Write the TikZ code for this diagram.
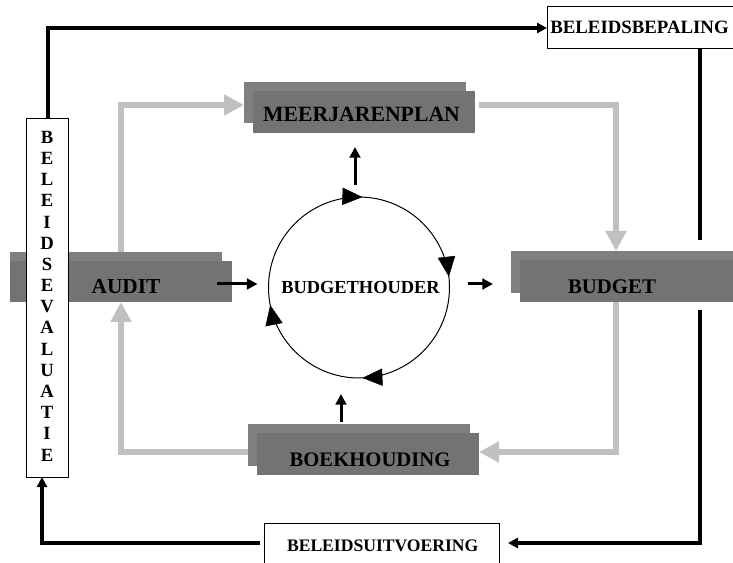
\documentclass[tikz,border=0pt]{standalone}
\usepackage{fontspec}
\setmainfont{Liberation Serif}
\usetikzlibrary{arrows.meta,calc,decorations.markings}
\definecolor{boxback}{RGB}{128,128,128}
\definecolor{boxfront}{RGB}{115,115,115}
\definecolor{flowgray}{RGB}{192,192,192}
\begin{document}
\begin{tikzpicture}[x=0.75pt,y=-0.75pt,
  boxshape/.style={rectangle,inner sep=0pt,outer sep=0pt},
  backbox/.style={boxshape,fill=boxback},
  frontbox/.style={boxshape},
  whitebox/.style={boxshape,draw=black,fill=white,line width=0.75pt},
  lbl/.style={inner sep=0pt,anchor=base},
  flow/.style={draw=flowgray,line width=4pt,-{Triangle[length=15pt,width=15pt]}},
  policy/.style={draw=black,line width=2.5pt,-{Triangle[length=7.5pt,width=7.5pt]}},
  policyline/.style={draw=black,line width=2.5pt},
  smallarrow/.style={draw=black,line width=2.25pt,-{Triangle[length=8pt,width=8pt]}}
]
\clip (0,0) rectangle (733,563);
\fill[white] (0,0) rectangle (733,563);

% back boxes
\node[backbox,minimum width=166.5pt,minimum height=30.75pt] (mjpB) at (355,102.5) {};
\node[backbox,minimum width=159pt,minimum height=30.75pt] (auditB) at (116,272.5) {};
\node[backbox,minimum width=175.5pt,minimum height=31.5pt] (budgetB) at (628,272) {};
\node[backbox,minimum width=166.5pt,minimum height=31.5pt] (boekB) at (359,445) {};

% front boxes (placed now, filled after the flows)
\node[frontbox,minimum width=166.5pt,minimum height=31.5pt] (mjp) at (364,112) {};
\node[frontbox,minimum width=166.5pt,minimum height=30.75pt] (audit) at (121,281.5) {};
\node[frontbox,minimum width=168.75pt,minimum height=31.5pt] (budget) at (632.5,281) {};
\node[frontbox,minimum width=166.5pt,minimum height=31.5pt] (boek) at (368,454) {};

% coordinates
\coordinate (gl) at (121,0);
\coordinate (gr) at (616,0);
\coordinate (gtop) at (0,105);
\coordinate (gbot) at (0,452);

% grey flows
\draw[flow] (auditB.north -| gl) |- (mjpB.west |- gtop);
\draw[flow] ($(mjp.east |- gtop)+(4,0)$) -| (budgetB.north -| gr);
\draw[flow] (budget.south -| gr) |- (boek.east |- gbot);
\draw[flow] (boekB.west |- gbot) -| (audit.south -| gl);

% fill front boxes
\foreach \b in {mjp,audit,budget,boek}
  \fill[boxfront] (\b.south west) rectangle (\b.north east);

% white boxes
\node[whitebox,minimum width=31.5pt,minimum height=268.5pt] (eval) at (47,298) {};
\node[whitebox,minimum width=159.75pt,minimum height=31.5pt] (bepaling) at (653.5,28) {};
\node[whitebox,minimum width=176.25pt,minimum height=57.75pt] (uitvoering) at (381.5,561.5) {};

% circle
\node[circle,draw=black,line width=0.75pt,minimum size=135.75pt,inner sep=0pt,outer sep=0pt] (circ) at (359,287.5) {};
\path[decoration={markings,
    mark=at position 0.244 with {\arrow{Triangle[length=15pt,width=13pt]}},
    mark=at position 0.469 with {\arrow{Triangle[length=15pt,width=13pt]}},
    mark=at position 0.756 with {\arrow{Triangle[length=15pt,width=13pt]}},
    mark=at position 0.981 with {\arrow{Triangle[length=15pt,width=13pt]}}},
    postaction={decorate}]
  (circ.east) arc[start angle=0,end angle=-360,radius=67.875pt];

% labels
\node[lbl,font=\bfseries\fontsize{16.3}{19}\selectfont] (mjptxt) at (361.5,122) {MEERJARENPLAN};
\node[lbl,font=\bfseries\fontsize{16}{19}\selectfont] (audittxt) at (126,294) {AUDIT};
\node[lbl,font=\bfseries\fontsize{15.6}{19}\selectfont] (budgettxt) at (612,294) {BUDGET};
\node[lbl,font=\bfseries\fontsize{15.5}{19}\selectfont] (boektxt) at (370,466) {BOEKHOUDING};
\node[lbl,font=\bfseries\fontsize{13.8}{17}\selectfont] (bhtxt) at (360.5,294) {BUDGETHOUDER};
\node[lbl,font=\bfseries\fontsize{14.1}{17}\selectfont] (beptxt) at (639.5,33.3) {BELEIDSBEPALING};
\node[lbl,font=\bfseries\fontsize{13.2}{16}\selectfont] (uittxt) at (382.7,551.7) {BELEIDSUITVOERING};
\foreach \ch [count=\i from 0] in {B,E,L,E,I,D,S,E,V,A,L,U,A,T,I,E}
  \node[lbl,font=\bfseries\fontsize{14}{16}\selectfont] (ev\i) at (47,{143.3+21.18*\i}) {\ch};

% policy loop
\coordinate (rcol) at (700,0);
\coordinate (ybot) at (0,543);
\coordinate (lcol) at (42,0);
\coordinate (gapT) at (700,240);
\coordinate (gapB) at (700,310);
\draw[policy] ($(eval.north)+(1,0)$) |- (bepaling.west);
\draw[policyline] (bepaling.south -| rcol) -- (gapT);
\draw[policy,shorten >=6.75pt] (gapB) |- (uitvoering.east |- ybot);
\draw[policy] ($(uitvoering.west |- ybot)+(-4,0)$) -| (eval.south -| lcol);

% small black arrows
\draw[smallarrow] ($(audit.east |- circ.center)+(-15,-3.5)$) -- ($(circ.west)+(-11,-3.5)$);
\draw[smallarrow] ($(circ.east)+(18,-3.5)$) -- ($(budgetB.west |- circ.east)+(-18,-3.5)$);
\draw[smallarrow] ($(circ.north)+(-4,-12)$) -- ($(mjp.south -| circ.north)+(-4,14)$);
\draw[smallarrow] ($(boekB.north -| circ.south)+(-18,-2)$) -- ($(circ.south)+(-18,16)$);
\end{tikzpicture}
\end{document}
